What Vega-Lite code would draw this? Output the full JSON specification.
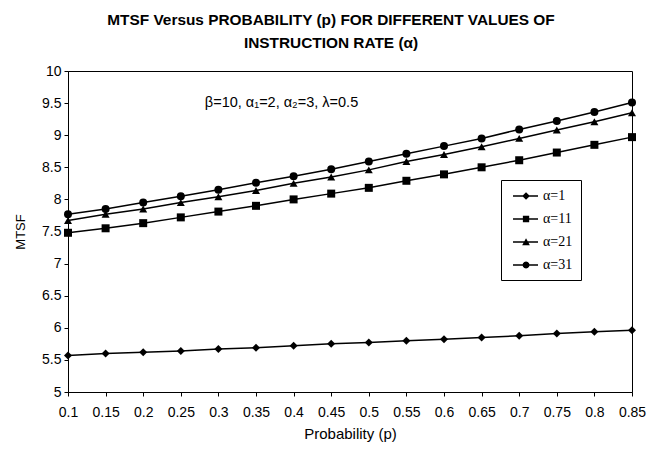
{
  "$schema": "https://vega.github.io/schema/vega-lite/v6.json",
  "autosize": "none",
  "width": 564,
  "height": 321,
  "padding": {"left": 68, "top": 71, "right": 29, "bottom": 57},
  "background": "white",
  "config": {
    "font": "Liberation Sans",
    "view": {"stroke": "black", "strokeWidth": 1},
    "axis": {"grid": false, "domainColor": "black", "tickColor": "black", "labelColor": "black", "titleColor": "black", "labelFont": "Liberation Sans", "titleFont": "Liberation Sans", "labelFontSize": 14, "titleFontSize": 14, "titleFontWeight": "normal", "tickSize": 4}
  },
  "title": {
    "text": ["MTSF Versus PROBABILITY (p) FOR DIFFERENT VALUES OF", "INSTRUCTION RATE (α)"],
    "font": "Liberation Sans",
    "fontSize": 15.4,
    "fontWeight": "bold",
    "color": "black",
    "lineHeight": 23,
    "anchor": "middle",
    "dx": -19,
    "offset": 13
  },
  "datasets": {
    "curves": [
      {"p": 0.1, "series": "α=1", "mtsf": 5.57}, {"p": 0.15, "series": "α=1", "mtsf": 5.6}, {"p": 0.2, "series": "α=1", "mtsf": 5.62}, {"p": 0.25, "series": "α=1", "mtsf": 5.64}, {"p": 0.3, "series": "α=1", "mtsf": 5.67}, {"p": 0.35, "series": "α=1", "mtsf": 5.69}, {"p": 0.4, "series": "α=1", "mtsf": 5.72}, {"p": 0.45, "series": "α=1", "mtsf": 5.75}, {"p": 0.5, "series": "α=1", "mtsf": 5.77}, {"p": 0.55, "series": "α=1", "mtsf": 5.8}, {"p": 0.6, "series": "α=1", "mtsf": 5.82}, {"p": 0.65, "series": "α=1", "mtsf": 5.85}, {"p": 0.7, "series": "α=1", "mtsf": 5.875}, {"p": 0.75, "series": "α=1", "mtsf": 5.91}, {"p": 0.8, "series": "α=1", "mtsf": 5.94}, {"p": 0.85, "series": "α=1", "mtsf": 5.96},
      {"p": 0.1, "series": "α=11", "mtsf": 7.48}, {"p": 0.15, "series": "α=11", "mtsf": 7.55}, {"p": 0.2, "series": "α=11", "mtsf": 7.63}, {"p": 0.25, "series": "α=11", "mtsf": 7.72}, {"p": 0.3, "series": "α=11", "mtsf": 7.81}, {"p": 0.35, "series": "α=11", "mtsf": 7.9}, {"p": 0.4, "series": "α=11", "mtsf": 8.0}, {"p": 0.45, "series": "α=11", "mtsf": 8.09}, {"p": 0.5, "series": "α=11", "mtsf": 8.18}, {"p": 0.55, "series": "α=11", "mtsf": 8.29}, {"p": 0.6, "series": "α=11", "mtsf": 8.39}, {"p": 0.65, "series": "α=11", "mtsf": 8.5}, {"p": 0.7, "series": "α=11", "mtsf": 8.61}, {"p": 0.75, "series": "α=11", "mtsf": 8.73}, {"p": 0.8, "series": "α=11", "mtsf": 8.85}, {"p": 0.85, "series": "α=11", "mtsf": 8.97},
      {"p": 0.1, "series": "α=21", "mtsf": 7.67}, {"p": 0.15, "series": "α=21", "mtsf": 7.77}, {"p": 0.2, "series": "α=21", "mtsf": 7.85}, {"p": 0.25, "series": "α=21", "mtsf": 7.95}, {"p": 0.3, "series": "α=21", "mtsf": 8.04}, {"p": 0.35, "series": "α=21", "mtsf": 8.14}, {"p": 0.4, "series": "α=21", "mtsf": 8.25}, {"p": 0.45, "series": "α=21", "mtsf": 8.35}, {"p": 0.5, "series": "α=21", "mtsf": 8.46}, {"p": 0.55, "series": "α=21", "mtsf": 8.59}, {"p": 0.6, "series": "α=21", "mtsf": 8.7}, {"p": 0.65, "series": "α=21", "mtsf": 8.82}, {"p": 0.7, "series": "α=21", "mtsf": 8.95}, {"p": 0.75, "series": "α=21", "mtsf": 9.08}, {"p": 0.8, "series": "α=21", "mtsf": 9.21}, {"p": 0.85, "series": "α=21", "mtsf": 9.35},
      {"p": 0.1, "series": "α=31", "mtsf": 7.77}, {"p": 0.15, "series": "α=31", "mtsf": 7.85}, {"p": 0.2, "series": "α=31", "mtsf": 7.95}, {"p": 0.25, "series": "α=31", "mtsf": 8.05}, {"p": 0.3, "series": "α=31", "mtsf": 8.15}, {"p": 0.35, "series": "α=31", "mtsf": 8.26}, {"p": 0.4, "series": "α=31", "mtsf": 8.36}, {"p": 0.45, "series": "α=31", "mtsf": 8.47}, {"p": 0.5, "series": "α=31", "mtsf": 8.59}, {"p": 0.55, "series": "α=31", "mtsf": 8.71}, {"p": 0.6, "series": "α=31", "mtsf": 8.83}, {"p": 0.65, "series": "α=31", "mtsf": 8.95}, {"p": 0.7, "series": "α=31", "mtsf": 9.09}, {"p": 0.75, "series": "α=31", "mtsf": 9.22}, {"p": 0.8, "series": "α=31", "mtsf": 9.36}, {"p": 0.85, "series": "α=31", "mtsf": 9.51}
    ],
    "note": [{"label": "β=10, α₁=2, α₂=3, λ=0.5", "p": 0.282, "mtsf": 9.5}]
  },
  "encoding": {
    "x": {
      "field": "p", "type": "quantitative", "title": "Probability (p)",
      "scale": {"domain": [0.1, 0.85], "nice": false, "zero": false},
      "axis": {"values": [0.1, 0.15, 0.2, 0.25, 0.3, 0.35, 0.4, 0.45, 0.5, 0.55, 0.6, 0.65, 0.7, 0.75, 0.8, 0.85], "format": ".2~f", "labelPadding": 9, "titlePadding": 7, "titleFontSize": 15, "labelFlush": false, "labelOverlap": false}
    },
    "y": {
      "field": "mtsf", "type": "quantitative", "title": "MTSF",
      "scale": {"domain": [5, 10], "nice": false, "zero": false},
      "axis": {"values": [5, 5.5, 6, 6.5, 7, 7.5, 8, 8.5, 9, 9.5, 10], "format": "~g", "labelPadding": 3, "titlePadding": 14, "titleFontSize": 13, "labelFlush": false, "labelOverlap": false}
    }
  },
  "resolve": {"scale": {"shape": "independent"}, "legend": {"shape": "independent"}},
  "layer": [
    {
      "data": {"name": "curves"},
      "mark": {"type": "line", "color": "black", "strokeWidth": 1.5},
      "encoding": {"detail": {"field": "series"}}
    },
    {
      "data": {"name": "curves"},
      "mark": {"type": "point", "filled": true, "color": "black", "opacity": 1, "size": 64},
      "encoding": {
        "shape": {
          "field": "series", "type": "nominal",
          "scale": {"domain": ["α=1", "α=11", "α=21", "α=31"], "range": ["diamond", "square", "triangle-up", "circle"]},
          "legend": null
        }
      }
    },
    {
      "data": {"name": "curves"},
      "transform": [{"filter": "false"}],
      "mark": {"type": "point", "filled": true, "color": "black", "opacity": 1},
      "encoding": {
        "shape": {
          "field": "series", "type": "nominal",
          "scale": {
            "domain": ["α=1", "α=11", "α=21", "α=31"],
            "range": [
              "M-0.57,-0.09H3V0.09H-0.57ZM1.29,-0.55L1.84,0L1.29,0.55L0.74,0Z",
              "M-0.57,-0.09H3V0.09H-0.57ZM0.84,-0.45H1.74V0.45H0.84Z",
              "M-0.57,-0.09H3V0.09H-0.57ZM1.29,-0.55L1.84,0.45H0.74Z",
              "M-0.57,-0.09H3V0.09H-0.57ZM1.29,-0.5L1.54,-0.433L1.723,-0.25L1.79,0L1.723,0.25L1.54,0.433L1.29,0.5L1.04,0.433L0.857,0.25L0.79,0L0.857,-0.25L1.04,-0.433Z"
            ]
          },
          "legend": {
            "title": null, "orient": "none", "legendX": 433, "legendY": 109,
            "strokeColor": "black", "fillColor": "white", "padding": 8,
            "symbolSize": 196, "rowPadding": 8, "labelOffset": 18,
            "labelFont": "Liberation Serif", "labelFontSize": 14, "labelColor": "black",
            "symbolFillColor": "black", "symbolOpacity": 1
          }
        }
      }
    },
    {
      "data": {"name": "note"},
      "mark": {"type": "text", "align": "left", "baseline": "middle", "fontSize": 14.5, "font": "Liberation Sans", "color": "black"},
      "encoding": {
        "text": {"field": "label", "type": "nominal"}
      }
    }
  ]
}
